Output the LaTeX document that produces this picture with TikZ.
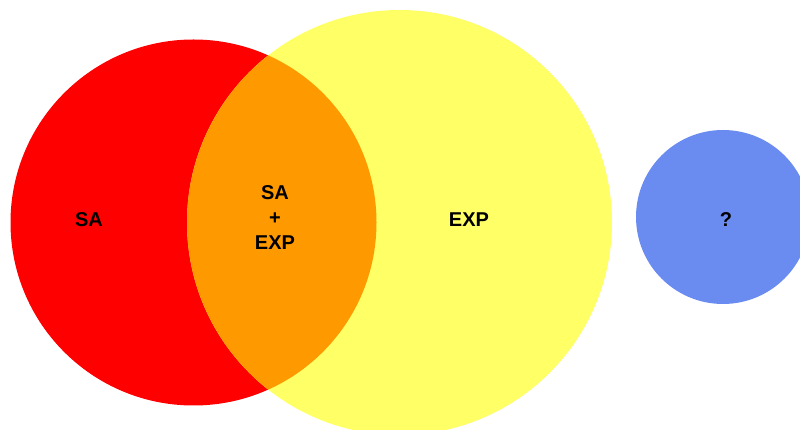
\documentclass[tikz,border=0pt]{standalone}
\usepackage{fontspec}
\setmainfont{Liberation Sans}
\definecolor{cred}{RGB}{255,0,0}
\definecolor{cyellow}{RGB}{255,255,102}
\definecolor{corange}{RGB}{255,153,0}
\definecolor{cblue}{RGB}{106,140,240}
\begin{document}
\begin{tikzpicture}[x=1pt,y=1pt,
  lbl/.style={font=\fontsize{20}{25}\selectfont\bfseries, text=black, inner sep=0pt, align=center}]
\useasboundingbox (0,0) rectangle (800,430);
\begin{scope}
\clip (0,0) rectangle (800,430);
\fill[cred] (193.5,207.5) circle[radius=183];
\fill[cyellow] (399.5,207.5) circle[radius=212.5];
\begin{scope}
\clip (193.5,207.5) circle[radius=183];
\fill[corange] (399.5,207.5) circle[radius=212.5];
\end{scope}
\fill[cblue] (723,213) circle[radius=87];
\end{scope}
\node[lbl] (sa) at (89,210.5) {SA};
\node[lbl] (both) at (275,212.5) {SA\\+\\EXP};
\node[lbl] (exp) at (469,210) {EXP};
\node[lbl] (q) at (726,210) {?};
\end{tikzpicture}
\end{document}
